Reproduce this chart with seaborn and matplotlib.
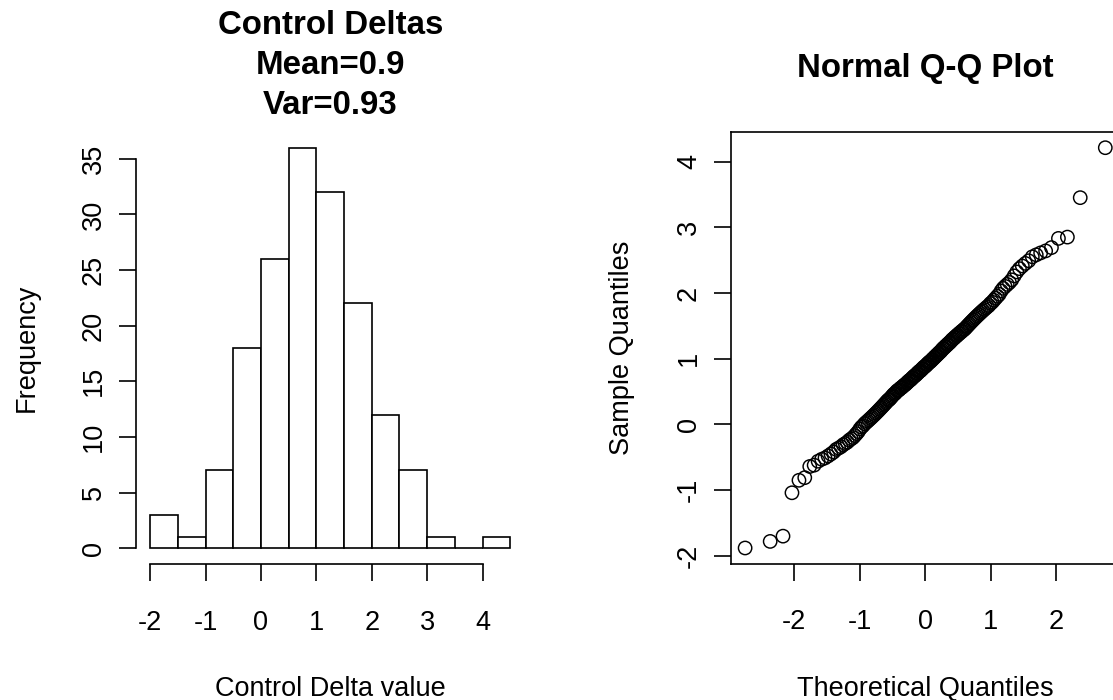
import matplotlib
matplotlib.use("Agg")
import matplotlib.pyplot as plt
import seaborn as sns
from statistics import NormalDist

# ---------------- data ----------------
delta_values = [
    -1.88, -1.78, -1.70,
    -1.04,
    -0.85, -0.81, -0.64, -0.62, -0.56, -0.53, -0.51,
    -0.48, -0.45, -0.42, -0.38, -0.36, -0.34, -0.31, -0.29, -0.27,
    -0.24, -0.22, -0.20, -0.17, -0.14, -0.11, -0.07, -0.04, -0.02,
    0.01, 0.03, 0.05, 0.07, 0.09, 0.11, 0.13, 0.15, 0.17, 0.19,
    0.21, 0.23, 0.25, 0.27, 0.29, 0.31, 0.33, 0.35, 0.37, 0.38,
    0.40, 0.42, 0.44, 0.46, 0.47, 0.49,
    0.51, 0.52, 0.53, 0.55, 0.56, 0.57, 0.59, 0.60, 0.61, 0.63,
    0.64, 0.66, 0.67, 0.68, 0.70, 0.71, 0.73, 0.74, 0.75, 0.77,
    0.78, 0.80, 0.81, 0.82, 0.84, 0.85, 0.87, 0.88, 0.89, 0.91,
    0.92, 0.94, 0.95, 0.96, 0.98, 0.99,
    1.01, 1.02, 1.04, 1.05, 1.07, 1.08, 1.10, 1.11, 1.13, 1.15,
    1.16, 1.18, 1.19, 1.21, 1.22, 1.24, 1.25, 1.27, 1.29, 1.30,
    1.32, 1.33, 1.35, 1.36, 1.38, 1.39, 1.41, 1.42, 1.44, 1.45,
    1.47, 1.49,
    1.51, 1.53, 1.55, 1.57, 1.59, 1.61, 1.63, 1.65, 1.67, 1.69,
    1.71, 1.73, 1.75, 1.77, 1.79, 1.81, 1.84, 1.86, 1.89, 1.92,
    1.95, 1.98,
    2.03, 2.07, 2.10, 2.13, 2.16, 2.20, 2.26, 2.32, 2.37, 2.41,
    2.45, 2.49,
    2.55, 2.58, 2.61, 2.64, 2.69, 2.83, 2.85,
    3.45,
    4.21,
]
bin_edges = [-2.0, -1.5, -1.0, -0.5, 0.0, 0.5, 1.0, 1.5, 2.0, 2.5, 3.0, 3.5, 4.0, 4.5]
hist_xticks = [-2, -1, 0, 1, 2, 3, 4]
hist_yticks = [0, 5, 10, 15, 20, 25, 30, 35]
qq_xticks = [-2, -1, 0, 1, 2]
qq_yticks = [-2, -1, 0, 1, 2, 3, 4]

hist_title = "Control Deltas\nMean=0.9\nVar=0.93"
hist_xlabel = "Control Delta value"
hist_ylabel = "Frequency"
qq_title = "Normal Q-Q Plot"
qq_xlabel = "Theoretical Quantiles"
qq_ylabel = "Sample Quantiles"

# ---------------- style ----------------
sns.set_style("ticks")
plt.rcParams["font.family"] = ["Liberation Sans", "DejaVu Sans"]
plt.rcParams["axes.unicode_minus"] = False
plt.rcParams["text.color"] = "black"
plt.rcParams["axes.labelcolor"] = "black"
plt.rcParams["axes.titlecolor"] = "black"

TICK_FS = 19.5
TITLE_FS = 23.8
LW = 1.2
TICK_LEN = 12.2

W, H = 1113, 700
fig = plt.figure(figsize=(W / 100, H / 100), dpi=100, facecolor="white")


def px_axes(x0, y0, x1, y1):
    return fig.add_axes([x0 / W, 1 - y1 / H, (x1 - x0) / W, (y1 - y0) / H])


ax1 = px_axes(135.7, 131.6, 524.7, 564.3)
ax2 = px_axes(730.7, 131.7, 1119.7, 564.0)

# ---------------- histogram ----------------
sns.histplot(x=delta_values, bins=bin_edges, ax=ax1, stat="count",
             color="white", edgecolor="black", linewidth=LW, alpha=1.0)
r = bin_edges[-1] - bin_edges[0]
ax1.set_xlim(bin_edges[0] - 0.04 * r, bin_edges[-1] + 0.04 * r)
top = max(p.get_height() for p in ax1.patches)
ax1.set_ylim(-0.04 * top, top * 1.04)
ax1.set_xticks(hist_xticks)
ax1.set_yticks(hist_yticks)
for s in ["top", "right"]:
    ax1.spines[s].set_visible(False)
ax1.spines["left"].set_bounds(hist_yticks[0], hist_yticks[-1])
ax1.spines["bottom"].set_bounds(hist_xticks[0], hist_xticks[-1])

# ---------------- Q-Q plot ----------------
n = len(delta_values)
sample_sorted = sorted(delta_values)
nd = NormalDist()
theoretical = [nd.inv_cdf((i + 0.5) / n) for i in range(n)]
sns.scatterplot(x=theoretical, y=sample_sorted, ax=ax2, marker="o", s=92,
                facecolors="none", edgecolor="black", linewidth=1.05)
tr = theoretical[-1] - theoretical[0]
sr = sample_sorted[-1] - sample_sorted[0]
ax2.set_xlim(theoretical[0] - 0.04 * tr, theoretical[-1] + 0.04 * tr)
ax2.set_ylim(sample_sorted[0] - 0.04 * sr, sample_sorted[-1] + 0.04 * sr)
ax2.set_xticks(qq_xticks)
ax2.set_yticks(qq_yticks)

# ---------------- common axes styling ----------------
for ax in (ax1, ax2):
    for sp in ax.spines.values():
        sp.set_linewidth(LW)
        sp.set_color("black")
    ax.tick_params(axis="both", direction="out", length=TICK_LEN, width=LW,
                   color="black", labelcolor="black", labelsize=TICK_FS)
    ax.tick_params(axis="x", pad=20.4)
    ax.tick_params(axis="y", pad=8.4, labelrotation=90)
    for lab in ax.get_yticklabels():
        lab.set_verticalalignment("center")
    ax.set_facecolor("white")

ax1.set_xlabel(hist_xlabel, fontsize=TICK_FS, color="black")
ax1.set_ylabel(hist_ylabel, fontsize=TICK_FS, color="black")
ax2.set_xlabel(qq_xlabel, fontsize=TICK_FS, color="black")
ax2.set_ylabel(qq_ylabel, fontsize=TICK_FS, color="black")
for ax in (ax1, ax2):
    ax.xaxis.set_label_coords(0.5, -0.258)
    ax.yaxis.set_label_coords(-0.2468, 0.5)

ax1.set_title(hist_title, fontsize=TITLE_FS, fontweight="bold", color="black",
              linespacing=1.37, y=1.024, pad=0, va="bottom")
ax2.set_title(qq_title, fontsize=TITLE_FS, fontweight="bold", color="black",
              y=1.111, pad=0, va="bottom")

fig.savefig("out.png", dpi=100, facecolor="white")
